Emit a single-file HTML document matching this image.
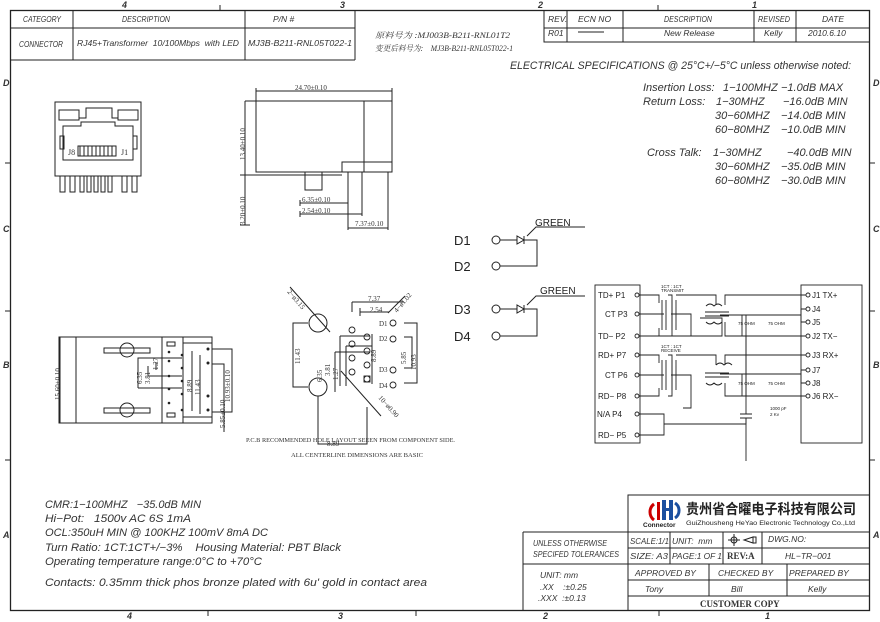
<!DOCTYPE html>
<html><head><meta charset="utf-8"><style>
html,body{margin:0;padding:0;background:#fff}
svg{display:block}
text{white-space:pre}
.t{font-family:"Liberation Sans","Noto Sans CJK SC",sans-serif;font-style:italic;fill:#333}
.s{font-family:"Liberation Serif","Noto Serif CJK SC",serif;fill:#333}
</style></head><body>
<svg width="880" height="622" viewBox="0 0 880 622" xmlns="http://www.w3.org/2000/svg" stroke="#222" stroke-width="1" fill="none">
<!-- frame -->
<rect x="10.5" y="10.5" width="859" height="600" stroke-width="1.3"/>
<g class="t" stroke="none" font-size="9" font-weight="bold">
<text x="122" y="8">4</text><text x="340" y="8">3</text><text x="538" y="8">2</text><text x="752" y="8">1</text>
<text x="127" y="619">4</text><text x="338" y="619">3</text><text x="543" y="619">2</text><text x="765" y="619">1</text>
<text x="3" y="86">D</text><text x="3" y="232">C</text><text x="3" y="368">B</text><text x="3" y="538">A</text>
<text x="873" y="86">D</text><text x="873" y="232">C</text><text x="873" y="368">B</text><text x="873" y="538">A</text>
</g>
<path d="M220 5v5M658 5v5M10 163h-5M10 311h-5M10 460h-5M870 163h5M870 311h5M870 460h5M208 611v5M416 611v5M659 611v5"/>
<!-- header tables -->
<path d="M10 28h345M355 10v50M10 60h345M73 10v50M245 10v50"/>
<g class="t" stroke="none" font-size="8.5">
<text x="23" y="22" textLength="38" lengthAdjust="spacingAndGlyphs">CATEGORY</text><text x="122" y="22" textLength="48" lengthAdjust="spacingAndGlyphs">DESCRIPTION</text><text x="273" y="22">P/N #</text>
<text x="19" y="47" textLength="44" lengthAdjust="spacingAndGlyphs">CONNECTOR</text><text x="77" y="46" textLength="162" lengthAdjust="spacingAndGlyphs">RJ45+Transformer  10/100Mbps  with LED</text><text x="248" y="46" textLength="104" lengthAdjust="spacingAndGlyphs">MJ3B-B211-RNL05T022-1</text>
</g>
<g class="s" stroke="none" font-size="8" font-style="italic">
<text x="375" y="38" textLength="135" lengthAdjust="spacingAndGlyphs">原料号为 :MJ003B-B211-RNL01T2</text>
<text x="375" y="51" textLength="138" lengthAdjust="spacingAndGlyphs">变更后料号为:    MJ3B-B211-RNL05T022-1</text>
</g>
<path d="M544 10v32h325M544 28h325M567 10v32M623 10v32M754 10v32M796 10v32"/>
<g class="t" stroke="none" font-size="8.5">
<text x="548" y="22">REV.</text><text x="578" y="22">ECN NO</text><text x="664" y="22" textLength="48" lengthAdjust="spacingAndGlyphs">DESCRIPTION</text><text x="758" y="22" textLength="32" lengthAdjust="spacingAndGlyphs">REVISED</text><text x="822" y="22">DATE</text>
<text x="548" y="36">R01</text><text x="664" y="36">New Release</text><text x="764" y="36">Kelly</text><text x="808" y="36">2010.6.10</text>
</g>
<path d="M578 32h26"/>
<!-- electrical specs -->
<g class="t" stroke="none" font-size="11">
<text x="510" y="69" textLength="341" lengthAdjust="spacingAndGlyphs">ELECTRICAL SPECIFICATIONS @ 25°C+/−5°C unless otherwise noted:</text>
<text x="643" y="91">Insertion Loss:</text><text x="723" y="91">1−100MHZ</text><text x="781" y="91">−1.0dB MAX</text>
<text x="643" y="105">Return Loss:</text><text x="716" y="105">1−30MHZ</text><text x="783" y="105">−16.0dB MIN</text>
<text x="715" y="119">30−60MHZ</text><text x="781" y="119">−14.0dB MIN</text>
<text x="715" y="133">60−80MHZ</text><text x="781" y="133">−10.0dB MIN</text>
<text x="647" y="156">Cross Talk:</text><text x="713" y="156">1−30MHZ</text><text x="787" y="156">−40.0dB MIN</text>
<text x="715" y="170">30−60MHZ</text><text x="781" y="170">−35.0dB MIN</text>
<text x="715" y="184">60−80MHZ</text><text x="781" y="184">−30.0dB MIN</text>
</g>
<!-- front view RJ45 -->
<g>
<rect x="55" y="102" width="86" height="74"/>
<rect x="59" y="110" width="20" height="10"/><rect x="118" y="110" width="20" height="10"/>
<path d="M79 118h7v-10h26v10h6"/>
<path d="M63 138v-12h18v-4h34v4h18v12M63 138v22h70v-22"/>
<rect x="60" y="136" width="4" height="13"/><rect x="133" y="136" width="4" height="13"/>
<path d="M78 146h38v10h-38z"/>
<path d="M80 146v10M84 146v10M88 146v10M92 146v10M96 146v10M100 146v10M104 146v10M108 146v10M112 146v10"/>
<path d="M60 176v16h5v-16M70 176v16h5v-16M80 176v16h4v-16M87 176v16h4v-16M94 176v16h4v-16M101 176v16h4v-16M108 176v16h4v-16M122 176v16h5v-16M132 176v16h5v-16"/>
</g>
<g class="s" stroke="none" font-size="8"><text x="68" y="155">J8</text><text x="121" y="155">J1</text></g>
<!-- side view -->
<rect x="256" y="101" width="136" height="71"/>
<path d="M364 101v71M342 172v-10h50M244 175h98M305 172v18h17v-18M348 172v20M362 172v20M388 172v21M245 101h11M245 101v124M240 175h10M240 225h10M256 91h136M256 88v13M392 88v13M300 203h48M300 214h62M348 228h40M300 200v6M300 211v6M348 190v40M388 190v40M362 190v26"/>
<g class="s" stroke="none" font-size="7">
<text x="295" y="90">24.70±0.10</text>
<text x="302" y="202">6.35±0.10</text><text x="302" y="213">2.54±0.10</text><text x="355" y="226">7.37±0.10</text>
<text transform="translate(245,160) rotate(-90)">13.40±0.10</text>
<text transform="translate(245,225) rotate(-90)">3.20±0.10</text>
</g>
<!-- bottom view -->
<g>
<rect x="60" y="337" width="152" height="86"/>
<path d="M76 337v86M162 337v86M183 337v6h29M183 423v-6h29M183 343v74"/>
<rect x="104" y="348" width="46" height="5"/><rect x="104" y="408" width="46" height="5"/>
<circle cx="127" cy="350" r="7"/><circle cx="127" cy="410" r="7"/>
<rect x="167" y="342" width="8" height="4"/><rect x="167" y="413" width="8" height="4"/>
<g fill="#222" stroke="none">
<circle cx="169" cy="352" r="1.3"/><circle cx="182" cy="355" r="1.3"/><circle cx="169" cy="361" r="1.3"/><circle cx="182" cy="368" r="1.3"/>
<circle cx="169" cy="376" r="1.3"/><circle cx="182" cy="381" r="1.3"/><circle cx="169" cy="389" r="1.3"/><circle cx="182" cy="394" r="1.3"/><circle cx="169" cy="403" r="1.3"/><circle cx="182" cy="410" r="1.3"/>
<circle cx="208" cy="349" r="1.5"/><circle cx="208" cy="363" r="1.5"/><circle cx="208" cy="396" r="1.5"/><circle cx="208" cy="410" r="1.5"/>
</g>
<path d="M64 337h-5v86h5M59 337v86M138 388h44M138 388v-30h44M148 376h34M148 376v-10M156 370v-8M192 351v60M200 355v59M212 349h20v63h-20M212 364h12v48M224 412v20"/>
</g>
<g class="s" stroke="none" font-size="7">
<text transform="translate(60,400) rotate(-90)">15.60±0.10</text>
<text transform="translate(142,384) rotate(-90)">6.35</text><text transform="translate(150,384) rotate(-90)">3.81</text><text transform="translate(158,370) rotate(-90)">1.27</text>
<text transform="translate(192,392) rotate(-90)">8.89</text><text transform="translate(200,395) rotate(-90)">11.43</text>
<text transform="translate(230,402) rotate(-90)">10.93±0.10</text><text transform="translate(225,428) rotate(-90)">5.85±0.10</text>
</g>
<!-- PCB layout -->
<g>
<circle cx="318" cy="323" r="9"/><circle cx="318" cy="387" r="9"/>
<path d="M290 287l40 45M341 371l40 45M405 296l-17 17"/>
<path d="M308 323h-15v64h15M318 396v48h49v-37M352 302h52M352 302v10M360 312h29M360 308v8M340 336h30M340 336v50M346 346h26M346 346v40M335 352h35M335 352v40M372 334v50M404 323h13v60h-13M404 337h8v31h-8"/>
</g>
<g stroke-width="0.9">
<circle cx="352" cy="330" r="3"/><circle cx="367" cy="337" r="3"/><circle cx="352" cy="344" r="3"/><circle cx="367" cy="351" r="3"/><circle cx="352" cy="358" r="3"/><circle cx="367" cy="365" r="3"/><circle cx="352" cy="372" r="3"/><circle cx="367" cy="379" r="3"/>
<rect x="364" y="376" width="6" height="6"/>
<circle cx="393" cy="323" r="3"/><circle cx="393" cy="339" r="3"/><circle cx="393" cy="370" r="3"/><circle cx="393" cy="385" r="3"/>
</g>
<g class="s" stroke="none" font-size="7">
<text transform="translate(287,292) rotate(50)">2−ø3.15</text>
<text transform="translate(397,313) rotate(-50)">4−ø1.02</text>
<text transform="translate(378,398) rotate(48)">10−ø0.90</text>
<text x="368" y="301">7.37</text><text x="370" y="312">2.54</text><text x="327" y="446">8.89</text>
<text x="379" y="326">D1</text><text x="379" y="341">D2</text><text x="379" y="372">D3</text><text x="379" y="388">D4</text>
<text transform="translate(300,364) rotate(-90)">11.43</text>
<text transform="translate(322,382) rotate(-90)">6.35</text><text transform="translate(330,376) rotate(-90)">3.81</text>
<text transform="translate(338,380) rotate(-90)">1.27</text><text transform="translate(376,362) rotate(-90)">8.89</text>
<text transform="translate(406,364) rotate(-90)">5.85</text><text transform="translate(416,370) rotate(-90)">10.93</text>
<text x="246" y="442" font-size="6.5" textLength="209" lengthAdjust="spacingAndGlyphs">P.C.B RECOMMENDED HOLE LAYOUT SEEEN FROM COMPONENT SIDE.</text>
<text x="291" y="457" font-size="6.5" textLength="132" lengthAdjust="spacingAndGlyphs">ALL CENTERLINE DIMENSIONS ARE BASIC</text>
</g>
<!-- LEDs -->
<g>
<circle cx="496" cy="240" r="4"/><circle cx="496" cy="266" r="4"/><circle cx="496" cy="309" r="4"/><circle cx="496" cy="336" r="4"/>
<path d="M500 240h17M517 236v8l7-4zM524 236v8M524 240h13v26h-37M527 236l9-9h49"/>
<path d="M500 309h17M517 305v8l7-4zM524 305v8M524 309h13v27h-37M527 305l9-9h49"/>
</g>
<g stroke="none" font-family="Liberation Sans,sans-serif" fill="#222">
<text x="454" y="245" font-size="13">D1</text><text x="454" y="271" font-size="13">D2</text><text x="454" y="314" font-size="13">D3</text><text x="454" y="341" font-size="13">D4</text>
<text x="535" y="226" font-size="10">GREEN</text><text x="540" y="294" font-size="10">GREEN</text>
</g>
<!-- schematic -->
<g stroke-width="0.9">
<rect x="595" y="285" width="45" height="158"/><rect x="801" y="285" width="61" height="158"/>
<circle cx="637" cy="295" r="2"/><circle cx="637" cy="314" r="2"/><circle cx="637" cy="336" r="2"/><circle cx="637" cy="355" r="2"/><circle cx="637" cy="375" r="2"/><circle cx="637" cy="396" r="2"/><circle cx="637" cy="414" r="2"/><circle cx="637" cy="435" r="2"/>
<circle cx="808" cy="295" r="2"/><circle cx="808" cy="309" r="2"/><circle cx="808" cy="322" r="2"/><circle cx="808" cy="336" r="2"/><circle cx="808" cy="355" r="2"/><circle cx="808" cy="370" r="2"/><circle cx="808" cy="383" r="2"/><circle cx="808" cy="396" r="2"/>
<path d="M639 295h20v8M639 314h25M639 336h20v-8M662 300v30M666 300v30M668 295h4v41h-4M671 314h20v22h-52"/>
<path d="M672 300v30M676 300v30M676 295h40v10M700 318h22v18h-40M705 312h24M705 316h24M725 305v-10h81M706 322q4 4 8 0q4 4 8 0M706 306q4-4 8 0q4-4 8 0"/>
<path d="M725 322v14h81"/>
<path d="M720 315h22M742 315h20M762 315h25M787 315h14v-6h5M801 315v7h5M742 315v21M746 315v60"/>
<path d="M639 355h20v8M639 375h25M639 396h20v-8M662 360v30M666 360v30M668 355h4v41h-4M671 375h20v33h-8"/>
<path d="M676 360v30M672 360v30M676 355h40v10M716 365q4-4 8 0q4-4 8 0M705 373h24M705 377h24M706 383q4 4 8 0q4 4 8 0M725 365v-10h81M725 383v13h81"/>
<path d="M720 374h22M742 374h20M762 374h25M787 374h14v-4h5M801 374v9h5M742 374v22M746 374v40M740 414h12M740 418h12M746 418v43"/>
<path d="M639 414h25v21h-25M664 424h82v-6"/>
<path d="M746 336v60"/>
</g>
<g stroke="none" font-family="Liberation Sans,sans-serif" fill="#222" font-size="8">
<text x="598" y="298">TD+ P1</text><text x="605" y="317">CT P3</text><text x="598" y="339">TD− P2</text><text x="598" y="358">RD+ P7</text><text x="605" y="378">CT P6</text><text x="598" y="399">RD− P8</text><text x="597" y="417">N/A P4</text><text x="598" y="438">RD− P5</text>
<text x="812" y="298">J1 TX+</text><text x="812" y="312">J4</text><text x="812" y="325">J5</text><text x="812" y="339">J2 TX−</text><text x="812" y="358">J3 RX+</text><text x="812" y="373">J7</text><text x="812" y="386">J8</text><text x="812" y="399">J6 RX−</text>
<g font-size="4.5"><text x="661" y="288">1CT : 1CT</text><text x="661" y="292">TRANSMIT</text><text x="661" y="348">1CT : 1CT</text><text x="661" y="352">RECEIVE</text>
<text x="738" y="325">75 OHM</text><text x="768" y="325">75 OHM</text><text x="738" y="385">75 OHM</text><text x="768" y="385">75 OHM</text>
<text x="770" y="410">1000 pF</text><text x="770" y="416">2 Kv</text></g>
</g>
<!-- bottom-left notes -->
<g class="t" stroke="none" font-size="11">
<text x="45" y="508" textLength="156" lengthAdjust="spacingAndGlyphs">CMR:1−100MHZ   −35.0dB MIN</text>
<text x="45" y="522" textLength="146" lengthAdjust="spacingAndGlyphs">Hi−Pot:   1500v AC 6S 1mA</text>
<text x="45" y="536" textLength="223" lengthAdjust="spacingAndGlyphs">OCL:350uH MIN @ 100KHZ 100mV 8mA DC</text>
<text x="45" y="551" textLength="296" lengthAdjust="spacingAndGlyphs">Turn Ratio: 1CT:1CT+/−3%    Housing Material: PBT Black</text>
<text x="45" y="565" textLength="217" lengthAdjust="spacingAndGlyphs">Operating temperature range:0°C to +70°C</text>
<text x="45" y="586" textLength="382" lengthAdjust="spacingAndGlyphs">Contacts: 0.35mm thick phos bronze plated with 6u' gold in contact area</text>
</g>
<!-- title block -->
<path d="M628 611v-116h241M523 532h346M523 532v79M523 564h346M628 548h241M628 580h241M628 596h241M670 532v32M723 532v32M762 532v32M709 564v32M787 564v32"/>
<g>
<path d="M654 504a10 10 0 0 0 0 16" stroke="#c00" stroke-width="3"/>
<rect x="657" y="502" width="3" height="18" fill="#c00" stroke="none"/>
<rect x="662" y="500" width="4" height="20" fill="#1a4fa0" stroke="none"/><rect x="669" y="500" width="4" height="20" fill="#1a4fa0" stroke="none"/><rect x="662" y="508" width="11" height="3" fill="#1a4fa0" stroke="none"/>
<path d="M675 503a9 9 0 0 1 0 15" stroke="#1a4fa0" stroke-width="3"/>
</g>
<g stroke="none" font-family="Liberation Sans,sans-serif" fill="#222">
<text x="643" y="527" font-size="6.5" font-weight="bold">Connector</text>
<text x="686" y="514" font-size="14" font-weight="bold" font-family="Liberation Sans,'Noto Sans CJK SC',sans-serif" textLength="170" lengthAdjust="spacingAndGlyphs">贵州省合曜电子科技有限公司</text>
<text x="686" y="525" font-size="6.8" textLength="169" lengthAdjust="spacingAndGlyphs">GuiZhousheng HeYao Electronic Technology Co.,Ltd</text>
</g>
<g class="t" stroke="none" font-size="8.5">
<text x="533" y="546" textLength="74" lengthAdjust="spacingAndGlyphs">UNLESS OTHERWISE</text><text x="533" y="557" textLength="86" lengthAdjust="spacingAndGlyphs">SPECIFED TOLERANCES</text>
<text x="540" y="578">UNIT: mm</text><text x="540" y="590">.XX    :±0.25</text><text x="538" y="601">.XXX  :±0.13</text>
<text x="630" y="544" textLength="39" lengthAdjust="spacingAndGlyphs">SCALE:1/1</text><text x="672" y="544">UNIT:  mm</text><text x="768" y="542">DWG.NO:</text>
<text x="630" y="559" textLength="38" lengthAdjust="spacingAndGlyphs">SIZE: A3</text><text x="672" y="559" textLength="50" lengthAdjust="spacingAndGlyphs">PAGE:1 OF 1</text><text x="785" y="559">HL−TR−001</text>
<text x="635" y="576">APPROVED BY</text><text x="718" y="576">CHECKED BY</text><text x="789" y="576">PREPARED BY</text>
<text x="645" y="592">Tony</text><text x="731" y="592">Bill</text><text x="808" y="592">Kelly</text>
</g>
<g class="s" stroke="none" font-size="9" font-weight="bold"><text x="727" y="559">REV:A</text><text x="700" y="607">CUSTOMER COPY</text></g>
<circle cx="734" cy="540" r="3"/><path d="M728 540h12M734 534v12M744 540l9-3v6z M753 537h3v6h-3"/>
</svg>
</body></html>
